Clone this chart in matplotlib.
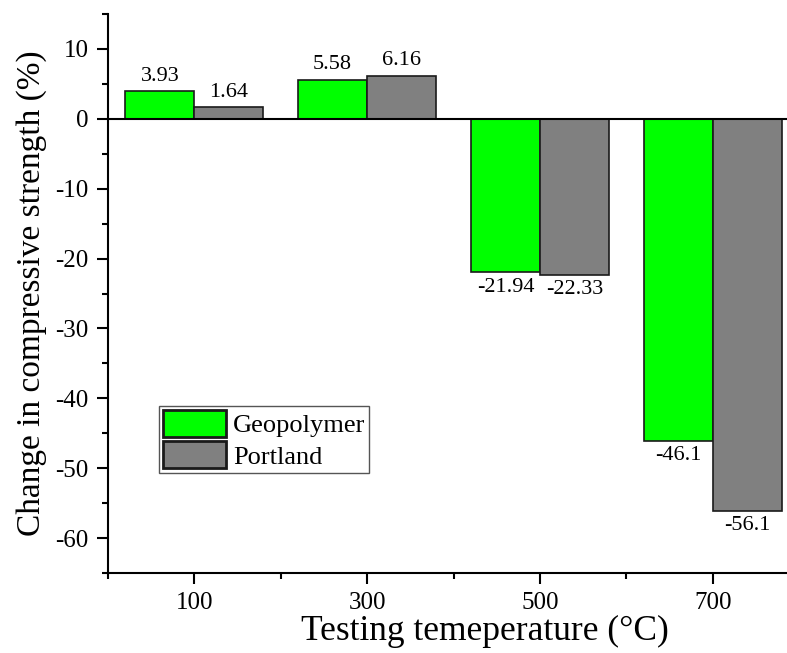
import numpy as np
import matplotlib
matplotlib.use('Agg')
import matplotlib.pyplot as plt

plt.rcParams['font.family'] = ['Liberation Serif', 'DejaVu Serif']
plt.rcParams['axes.unicode_minus'] = False

temps = ['100', '300', '500', '700']
geopolymer = [3.93, 5.58, -21.94, -46.1]
portland = [1.64, 6.16, -22.33, -56.1]

W, H = 787, 653
fig = plt.figure(figsize=(W / 100, H / 100), dpi=100)
ax = fig.add_axes([108 / W, 1 - 573 / H, 1 - 108 / W, (573 - 14) / H])

x = np.arange(len(temps))
bw = 0.4
b1 = ax.bar(x - bw / 2, geopolymer, bw, color='#00ff00', edgecolor='#1a1a1a', lw=1.2, label='Geopolymer', zorder=2)
b2 = ax.bar(x + bw / 2, portland, bw, color='#808080', edgecolor='#1a1a1a', lw=1.2, label='Portland', zorder=2)
for bars in (b1, b2):
    ax.bar_label(bars, fmt='%g', padding=4, fontsize=16)

ax.axhline(0, color='black', lw=1.5, zorder=3)

ax.set_xlim(-0.5, 3.43)
ax.set_ylim(-65, 15)
ax.set_xticks(x)
ax.set_xticklabels(temps)
ax.set_xticks([-0.5, 0.5, 1.5, 2.5], minor=True)
ax.set_yticks(np.arange(-60, 11, 10))
ax.set_yticks(np.arange(-65, 16, 5), minor=True)

for s in ['top', 'right']:
    ax.spines[s].set_visible(False)
for s in ['left', 'bottom']:
    ax.spines[s].set_linewidth(1.5)
ax.tick_params(which='major', direction='out', length=8, width=1.5, labelsize=18, pad=6)
ax.tick_params(which='minor', direction='out', length=4, width=1.5)

ax.set_xlabel('Testing temeperature (°C)', fontsize=25.5, labelpad=4)
ax.xaxis.set_label_coords(0.555, -0.075)
ax.set_ylabel('Change in compressive strength (%)', fontsize=24, labelpad=6)

leg = ax.legend(loc='upper left', bbox_to_anchor=(0.075, 0.299), borderaxespad=0,
                fontsize=19, fancybox=False, framealpha=1, edgecolor='#555555',
                handlelength=2.4, handleheight=1.2, handletextpad=0.25,
                labelspacing=0.15, borderpad=0.15)
leg.get_frame().set_linewidth(1.0)
for h in leg.legend_handles:
    h.set_linewidth(2)

fig.savefig('out.png', dpi=100)
